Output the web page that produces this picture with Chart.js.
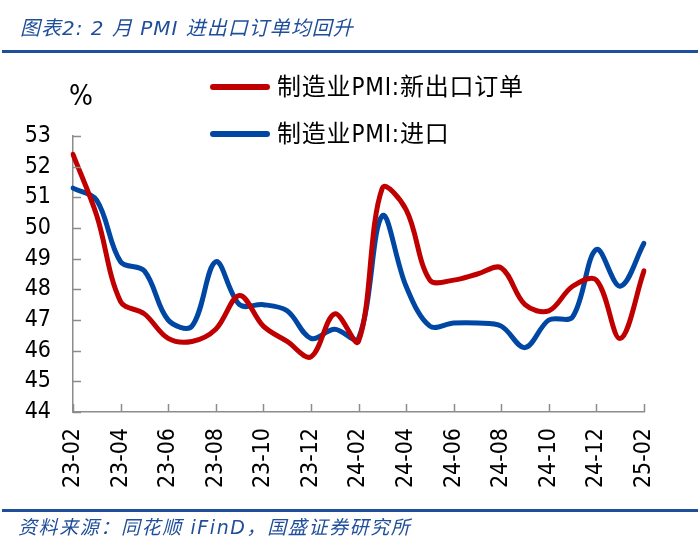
<!DOCTYPE html>
<html>
<head>
<meta charset="utf-8">
<script src="https://cdn.jsdelivr.net/npm/chart.js@4.4.1/dist/chart.umd.min.js"></script>
<style>
  html, body { margin:0; padding:0; background:#fff; }
  #wrap { position:relative; width:700px; height:547px; overflow:hidden; }
  #c { position:absolute; left:0; top:0; }
  .title { position:absolute; left:20px; top:14px; font-family:"DejaVu Sans","Noto Sans CJK SC",sans-serif; font-style:italic; font-size:20px; letter-spacing:1px; color:#1F4E9A; white-space:nowrap; line-height:28px; }
  .rule { position:absolute; left:2px; width:696px; height:3px; background:#1F4E9A; }
  .source { position:absolute; left:18px; top:513px; font-family:"DejaVu Sans","Noto Sans CJK SC",sans-serif; font-style:italic; font-size:19px; letter-spacing:1.6px; color:#1F4E9A; white-space:nowrap; line-height:28px; }
  .pct { position:absolute; left:69px; top:79px; font-family:"DejaVu Sans Condensed","DejaVu Sans",sans-serif; font-size:28px; color:#000; line-height:34px; }
  .leg { position:absolute; left:210px; height:30px; white-space:nowrap; }
  .leg .sw { position:absolute; left:0; top:12px; width:60px; height:6px; border-radius:3px; }
  .leg .tx { position:absolute; left:67px; top:0; font-family:"DejaVu Sans Condensed","Noto Sans CJK SC",sans-serif; font-size:24px; letter-spacing:0.8px; line-height:30px; color:#000; }
</style>
</head>
<body>
<div id="wrap">
  <canvas id="c" width="700" height="547"></canvas>
  <div class="title">图表2: 2 月 PMI 进出口订单均回升</div>
  <div class="rule" style="top:50px"></div>
  <div class="pct">%</div>
  <div class="leg" style="top:72px"><div class="sw" style="background:#C00000"></div><div class="tx" id="leg0"></div></div>
  <div class="leg" style="top:119px"><div class="sw" style="background:#0047A3"></div><div class="tx" id="leg1"></div></div>
  <div class="rule" style="top:509px"></div>
  <div class="source">资料来源：同花顺 iFinD，国盛证券研究所</div>
</div>
<script>
const categories = ["23-02","23-03","23-04","23-05","23-06","23-07","23-08","23-09","23-10","23-11","23-12",
  "24-01","24-02","24-03","24-04","24-05","24-06","24-07","24-08","24-09","24-10","24-11","24-12","25-01","25-02"];
const seriesNames = ["制造业PMI:新出口订单", "制造业PMI:进口"];
const newExportOrders = [52.4,50.4,47.6,47.2,46.4,46.3,46.7,47.8,46.8,46.3,45.8,47.2,46.3,51.3,50.6,48.3,48.3,48.5,48.7,47.5,47.3,48.1,48.3,46.4,48.6];
const imports = [51.3,50.9,48.9,48.6,47.0,46.8,48.9,47.5,47.5,47.3,46.4,46.7,46.4,50.4,48.1,46.8,46.9,46.9,46.8,46.1,47.0,47.1,49.3,48.1,49.5];
const yTicks = [44,45,46,47,48,49,50,51,52,53];

document.getElementById('leg0').textContent = seriesNames[0];
document.getElementById('leg1').textContent = seriesNames[1];

const AXIS_COLOR = '#8C8C8C';
const tickFont = { family: '"DejaVu Sans Condensed","DejaVu Sans",sans-serif', size: 23 };

const innerTicks = {
  id: 'innerTicks',
  afterDraw(chart) {
    const ctx = chart.ctx;
    const xs = chart.scales.x, ys = chart.scales.y;
    const area = chart.chartArea;
    ctx.save();
    ctx.strokeStyle = AXIS_COLOR;
    ctx.lineWidth = 1.5;
    ctx.beginPath();
    yTicks.forEach(v => {
      const y = Math.round(ys.getPixelForValue(v)) + 0.5;
      ctx.moveTo(area.left, y);
      ctx.lineTo(area.left + 8, y);
    });
    categories.forEach((c, i) => {
      if (i % 2 !== 0) return;
      const x = Math.round(xs.getPixelForValue(i)) + 0.5;
      ctx.moveTo(x, area.bottom);
      ctx.lineTo(x, area.bottom - 8);
    });
    ctx.stroke();
    ctx.restore();
  }
};

new Chart(document.getElementById('c'), {
  type: 'line',
  data: {
    labels: categories,
    datasets: [
      { label: seriesNames[0], data: newExportOrders, borderColor: '#C00000', borderWidth: 5, pointRadius: 0, tension: 0.35, fill: false, borderCapStyle: 'round', borderJoinStyle: 'round' },
      { label: seriesNames[1], data: imports, borderColor: '#0047A3', borderWidth: 5, pointRadius: 0, tension: 0.35, fill: false, borderCapStyle: 'round', borderJoinStyle: 'round' }
    ]
  },
  plugins: [innerTicks],
  options: {
    responsive: false,
    animation: false,
    devicePixelRatio: 1,
    layout: { padding: { left: 0, top: 136, right: 56, bottom: 35 } },
    plugins: { legend: { display: false }, tooltip: { enabled: false }, title: { display: false } },
    elements: { line: { capBezierPoints: true } },
    scales: {
      x: {
        type: 'category',
        offset: false,
        grid: { display: true, drawOnChartArea: false, drawTicks: false },
        border: { display: true, color: AXIS_COLOR, width: 1.5 },
        ticks: {
          autoSkip: false, minRotation: 90, maxRotation: 90, padding: 16, color: '#000', font: tickFont,
          callback: function(v, i) { return i % 2 === 0 ? categories[i] : ''; }
        },
        afterFit(scale) { scale.height = 100; }
      },
      y: {
        min: 44, max: 53,
        grid: { display: true, drawOnChartArea: false, drawTicks: false },
        border: { display: true, color: AXIS_COLOR, width: 1.5 },
        ticks: { stepSize: 1, padding: 22, color: '#000', font: tickFont },
        afterFit(scale) { scale.width = 73; }
      }
    }
  }
});
</script>
</body>
</html>
